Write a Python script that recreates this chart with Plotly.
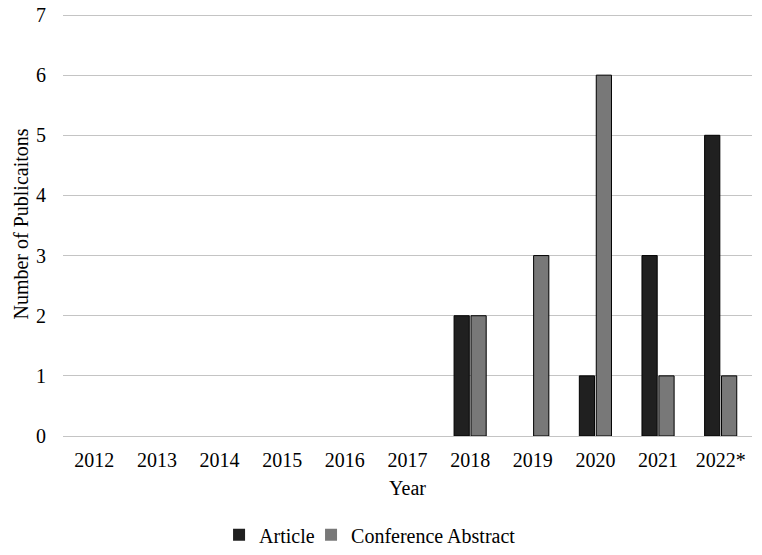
import plotly.graph_objects as go

years = ["2012", "2013", "2014", "2015", "2016", "2017", "2018", "2019", "2020", "2021", "2022*"]
article = [0, 0, 0, 0, 0, 0, 2, 0, 1, 3, 5]
conference = [0, 0, 0, 0, 0, 0, 2, 3, 6, 1, 1]
y_ticks = [0, 1, 2, 3, 4, 5, 6, 7]

font = "Liberation Serif, Times New Roman, serif"

def outline(vals):
    return [1 if v else 0 for v in vals]

fig = go.Figure()
fig.add_trace(go.Bar(x=years, y=article, name="Article", legend="legend",
                     marker=dict(color="#202020", line=dict(color="#000000", width=outline(article)))))
fig.add_trace(go.Bar(x=years, y=conference, name="Conference Abstract", legend="legend2",
                     marker=dict(color="#787878", line=dict(color="#000000", width=outline(conference)))))

leg = dict(orientation="h", yanchor="middle", y=-0.233, xanchor="left",
           font=dict(size=20), itemwidth=30, bgcolor="rgba(0,0,0,0)")

fig.update_layout(
    width=762, height=555,
    margin=dict(l=63, r=10, t=12, b=119, autoexpand=False),
    paper_bgcolor="white", plot_bgcolor="white",
    font=dict(family=font, size=20, color="#000000"),
    barmode="group", bargap=0.46, bargroupgap=0.1,
    legend=dict(leg, x=0.2265),
    legend2=dict(leg, x=0.3600),
    showlegend=True,
)
fig.update_xaxes(
    title=dict(text="Year", font=dict(size=20), standoff=10),
    showgrid=False, showline=False, ticks="", tickfont=dict(size=20), automargin=False,
    ticklabelstandoff=10,
)
fig.update_yaxes(
    title=dict(text="Number of Publicaitons", font=dict(size=20), standoff=2),
    range=[0, 7.05], tickvals=y_ticks, showgrid=True, gridcolor="#c4c4c4", gridwidth=1,
    zeroline=True, zerolinecolor="#c4c4c4", zerolinewidth=1, showline=False,
    tickfont=dict(size=20), ticks="", ticklabelstandoff=16, automargin=False,
)
fig.write_html("out.html", config={"displayModeBar": False},
               post_script="document.body.style.margin='0';")
